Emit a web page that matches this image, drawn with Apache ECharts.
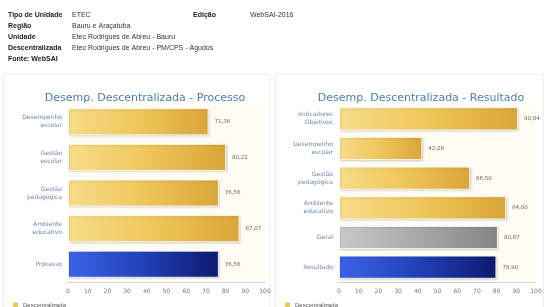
<!DOCTYPE html>
<html><head><meta charset="utf-8">
<script src="https://cdn.jsdelivr.net/npm/echarts@6/dist/echarts.min.js"></script>
<style>html,body{margin:0;padding:0;background:#fff}#c{width:546px;height:307px}</style>
</head><body><div id="c"></div>
<script>
const headerLabels = ['Tipo de Unidade','Região','Unidade','Descentralizada','Fonte: WebSAI'];
const headerValues = ['ETEC','Bauru e Araçatuba','Etec Rodrigues de Abreu - Bauru','Etec Rodrigues de Abreu - PM/CPS - Agudos',''];
const editionLabel = 'Edição';
const editionValue = 'WebSAI-2016';

const leftTitle = 'Desemp. Descentralizada - Processo';
const leftCategories = ['Desempenho\nescolar','Gestão\nescolar','Gestão\npedagógica','Ambiente\neducativo','Processo'];
const leftValues = [71.36, 80.22, 76.56, 87.07, 76.56];
const leftKinds = ['gold','gold','gold','gold','blue'];

const rightTitle = 'Desemp. Descentralizada - Resultado';
const rightCategories = ['Indicadores\nObjetivos','Desempenho\nescolar','Gestão\npedagógica','Ambiente\neducativo','Geral','Resultado'];
const rightValues = [90.84, 42.28, 66.50, 84.80, 80.67, 79.90];
const rightKinds = ['gold','gold','gold','gold','gray','blue'];

const xTicks = [0,10,20,30,40,50,60,70,80,90,100];
const seriesName = 'Descentralizada';

function grad(kind){
  const stops = {
    gold: ['#f7dc8a','#efc65a','#d9a538'],
    blue: ['#3c63e6','#2241b8','#0c1a6e'],
    gray: ['#c8c8c8','#a8a8a8','#858585']
  }[kind];
  return new echarts.graphic.LinearGradient(0,0,1,0,[
    {offset:0,color:stops[0]},{offset:0.5,color:stops[1]},{offset:1,color:stops[2]}]);
}
function fmt(v){return v.toFixed(2).replace('.',',');}

const chart = echarts.init(document.getElementById('c'));
const graphics = [];
headerLabels.forEach((t,i)=>{
  graphics.push({type:'text',left:8,top:12+i*11,style:{text:t,font:'bold 7px "Liberation Sans"',fill:'#222'}});
  graphics.push({type:'text',left:72,top:12+i*11,style:{text:headerValues[i],font:'7px "Liberation Sans"',fill:'#333'}});
});
graphics.push({type:'text',left:193,top:12,style:{text:editionLabel,font:'bold 7px "Liberation Sans"',fill:'#222'}});
graphics.push({type:'text',left:250,top:12,style:{text:editionValue,font:'7px "Liberation Sans"',fill:'#333'}});
graphics.push({type:'rect',shape:{x:3,y:74,width:267,height:240},style:{fill:'none',stroke:'#e4ebf3',lineWidth:1},z:-1});
graphics.push({type:'rect',shape:{x:275,y:74,width:268,height:240},style:{fill:'none',stroke:'#e4ebf3',lineWidth:1},z:-1});

function mkAxisX(gi){
  return {type:'value',gridIndex:gi,min:0,max:100,interval:10,
    axisLine:{show:true,lineStyle:{color:'#c8ccd8',type:'dotted'}},
    axisTick:{show:false},splitLine:{show:false},
    axisLabel:{fontSize:6,color:'#777',margin:6,fontFamily:'DejaVu Sans'}};
}
function mkAxisY(gi,cats){
  return {type:'category',gridIndex:gi,data:cats,inverse:true,
    axisLine:{show:false},axisTick:{show:false},
    axisLabel:{fontSize:6,color:'#6d84a8',lineHeight:8,margin:6,fontFamily:'DejaVu Sans'}};
}
function mkSeries(gi,vals,kinds,gap){
  return {type:'bar',name:seriesName,xAxisIndex:gi,yAxisIndex:gi,barCategoryGap:gap,
    data:vals.map((v,i)=>({value:v,itemStyle:{color:grad(kinds[i]),borderColor:'rgba(255,255,255,0.8)',borderWidth:1,shadowColor:'rgba(0,0,0,0.15)',shadowBlur:2,shadowOffsetX:1,shadowOffsetY:1}})),
    label:{show:true,position:'right',distance:6,fontSize:5.5,color:'#666',fontFamily:'DejaVu Sans',formatter:p=>fmt(p.value)},
    itemStyle:{color:'#efc65a'}};
}

chart.setOption({
  animation:false,
  graphic:graphics,
  title:[
    {text:leftTitle,left:140,textAlign:'center',top:88,textStyle:{fontSize:11,fontWeight:'normal',color:'#4a7db5',fontFamily:'DejaVu Sans'}},
    {text:rightTitle,left:416,textAlign:'center',top:88,textStyle:{fontSize:11,fontWeight:'normal',color:'#4a7db5',fontFamily:'DejaVu Sans'}}
  ],
  legend:[
    {data:[{name:seriesName,icon:'rect'}],left:8,top:297,itemWidth:5,itemHeight:5,itemGap:3,textStyle:{fontSize:6,color:'#555'}},
    {data:[{name:seriesName,icon:'rect'}],left:280,top:297,itemWidth:5,itemHeight:5,itemGap:3,textStyle:{fontSize:6,color:'#555'}}
  ],
  grid:[
    {left:68,right:281,top:104,bottom:25,backgroundColor:'#fffdf3',show:true,borderWidth:0},
    {left:339,right:10,top:104,bottom:25,backgroundColor:'#fffdf3',show:true,borderWidth:0}
  ],
  xAxis:[mkAxisX(0),mkAxisX(1)],
  yAxis:[mkAxisY(0,leftCategories),mkAxisY(1,rightCategories)],
  series:[mkSeries(0,leftValues,leftKinds,'24%'),mkSeries(1,rightValues,rightKinds,'22%')]
});
</script></body></html>
